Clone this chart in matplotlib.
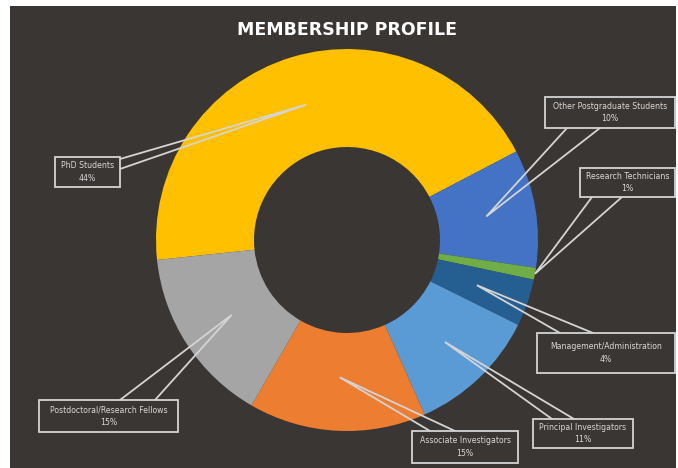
"""
    Membership profile donut chart.
"""

import numpy as np
import matplotlib
matplotlib.use("Agg")
import matplotlib.pyplot as plt
from matplotlib.patches import Rectangle

# --- data
categories = ["PhD Students", "Other Postgraduate Students", "Research Technicians",
              "Management/Administration", "Principal Investigators",
              "Associate Investigators", "Postdoctoral/Research Fellows"]
shares = [44, 10, 1, 4, 11, 15, 15]
slice_colors = ["#FFC000", "#4472C4", "#70AD47", "#255E91", "#5B9BD5", "#ED7D31", "#A5A5A5"]

# --- layout (pixels, measured from top-left of the picture)
W, H = 678, 468
bg = "#3a3634"
line_c = "#d4d4d4"
text_c = "#d9d9d9"
center = (347, 240)
radius = 191
ring_width = 98
start_angle = 186

# label boxes (x0, y0, x1, y1) and the two base points of each callout pointer
boxes = [(55, 157, 120, 187), (545, 97, 675, 128), (580, 168, 675, 197),
         (537, 333, 675, 373), (533, 419, 633, 448), (412, 431, 518, 463),
         (39, 400, 178, 432)]
bases = [((120, 159), (120, 169)), ((567, 128), (600, 128)), ((592, 197), (622, 197)),
         ((560, 333), (593, 333)), ((552, 419), (574, 419)), ((430, 431), (455, 431)),
         ((120, 400), (155, 400))]
tip_r = [0.74, 0.74, 1.0, 0.72, 0.74, 0.72, 0.72]


def flip(p):
    return (p[0], H - p[1])


fig = plt.figure(figsize=(W / 100, H / 100), dpi=100)
fig.patch.set_facecolor("white")
ax = fig.add_axes([0, 0, 1, 1])

# dark panel (white strip left and top like the original scan)
ax.add_patch(Rectangle((10, 0), 666, H - 6, facecolor=bg, edgecolor="none", zorder=0))

cx, cy = flip(center)
wedges, _ = ax.pie(shares, colors=slice_colors, startangle=start_angle, counterclock=False,
                   radius=radius, center=(cx, cy),
                   wedgeprops=dict(width=ring_width, linewidth=0))
for w in wedges:
    w.set_zorder(1)

ax.set_xlim(0, W)
ax.set_ylim(0, H)
ax.set_aspect("equal")
ax.axis("off")

ax.text(cx, H - 30, "MEMBERSHIP PROFILE", color="white", fontsize=12.5,
        fontweight="bold", ha="center", va="center", zorder=5)

# callouts
cum = np.cumsum([0] + shares[:-1])
total = sum(shares)
for i, name in enumerate(categories):
    mid = np.deg2rad(start_angle - (cum[i] + shares[i] / 2) / total * 360)
    r = tip_r[i] * radius
    tip = (cx + r * np.cos(mid), cy + r * np.sin(mid))
    b1, b2 = flip(bases[i][0]), flip(bases[i][1])
    ax.plot([b1[0], tip[0], b2[0]], [b1[1], tip[1], b2[1]], color=line_c, lw=1.3,
            solid_joinstyle="miter", zorder=3)

    x0, y0, x1, y1 = boxes[i]
    ax.add_patch(Rectangle((x0, H - y1), x1 - x0, y1 - y0, facecolor=bg,
                           edgecolor=line_c, lw=1.3, zorder=4))
    ax.text((x0 + x1) / 2, H - (y0 + y1) / 2, f"{name}\n{shares[i]}%", color=text_c,
            fontsize=5.6, ha="center", va="center", linespacing=1.5, zorder=5)

fig.savefig("out.png", dpi=100, facecolor=fig.get_facecolor())
